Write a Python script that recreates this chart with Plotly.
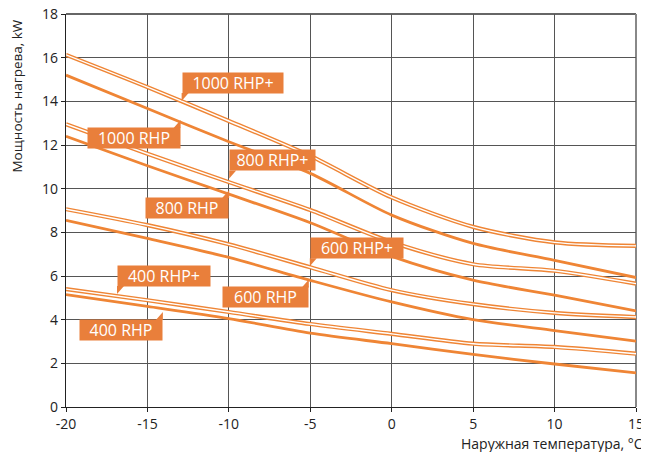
import plotly.graph_objects as go

temps = [-20, -15, -10, -5, 0, 5, 10, 15]

rhp1000_plus = [16.13, 14.65, 13.1, 11.5, 9.6, 8.25, 7.54, 7.38]
rhp1000 = [15.2, 13.67, 12.15, 10.7, 8.79, 7.49, 6.72, 5.93]
rhp800_plus = [12.95, 11.6, 10.3, 9.02, 7.55, 6.54, 6.24, 5.65]
rhp800 = [12.4, 11.05, 9.75, 8.44, 6.9, 5.81, 5.12, 4.4]
rhp600_plus = [9.06, 8.33, 7.45, 6.4, 5.35, 4.71, 4.31, 4.12]
rhp600 = [8.55, 7.72, 6.85, 5.8, 4.81, 4.0, 3.5, 3.02]
rhp400_plus = [5.4, 4.89, 4.35, 3.8, 3.35, 2.9, 2.75, 2.44]
rhp400 = [5.15, 4.61, 4.05, 3.38, 2.9, 2.41, 1.97, 1.56]

series_names = ["1000 RHP+", "1000 RHP", "800 RHP+", "800 RHP",
                "600 RHP+", "600 RHP", "400 RHP+", "400 RHP"]
series_values = [rhp1000_plus, rhp1000, rhp800_plus, rhp800,
                 rhp600_plus, rhp600, rhp400_plus, rhp400]
series_double = [True, False, True, False, True, False, True, False]

# label pointer tips (data coords), pointer side, box width (px)
label_tip_x = [-12.9, -12.96, -9.98, -9.98, -5.03, -5.09, -16.87, -14.05]
label_tip_y = [14.02, 13.15, 10.47, 9.94, 6.45, 5.84, 5.17, 4.35]
label_side = ["bl", "tr", "bl", "tr", "bl", "tr", "bl", "tr"]
label_width = [100, 92, 85, 82, 92, 85, 92, 82]

x_ticks = [-20, -15, -10, -5, 0, 5, 10, 15]
y_ticks = [0, 2, 4, 6, 8, 10, 12, 14, 16, 18]

ORANGE = "#EF8535"
LABEL = "#E97F3B"

fig = go.Figure()
for name, vals, dbl in zip(series_names, series_values, series_double):
    if dbl:
        fig.add_trace(go.Scatter(x=temps, y=vals, mode="lines", name=name,
                                 line=dict(color=ORANGE, width=4.2, shape="spline", smoothing=0.8),
                                 hoverinfo="skip", showlegend=False))
        fig.add_trace(go.Scatter(x=temps, y=vals, mode="lines", name=name,
                                 line=dict(color="white", width=1.4, shape="spline", smoothing=0.8),
                                 showlegend=False))
    else:
        fig.add_trace(go.Scatter(x=temps, y=vals, mode="lines", name=name,
                                 line=dict(color=ORANGE, width=2.8, shape="spline", smoothing=0.8),
                                 showlegend=False))

shapes = [
    dict(type="line", xref="paper", yref="paper", x0=0, x1=1, y0=1, y1=1,
         line=dict(color="#333", width=1.5), layer="below"),
    dict(type="line", xref="paper", yref="paper", x0=1, x1=1, y0=0, y1=1,
         line=dict(color="#888", width=2), layer="below"),
]
annotations = []
BOX_H = 20
GAP = 7
for name, tx, ty, side, w in zip(series_names, label_tip_x, label_tip_y, label_side, label_width):
    if side == "bl":
        path = f"M0,0 L0,{GAP + 1} L7,{GAP + 1} Z"
        annotations.append(dict(x=tx, y=ty, xref="x", yref="y", text=name, showarrow=False,
                                xanchor="left", yanchor="bottom", yshift=GAP,
                                width=w, height=BOX_H, bgcolor=LABEL, borderpad=0,
                                font=dict(family="Open Sans", size=16, color="white")))
    else:
        path = f"M0,0 L0,{-GAP - 1} L-7,{-GAP - 1} Z"
        annotations.append(dict(x=tx, y=ty, xref="x", yref="y", text=name, showarrow=False,
                                xanchor="right", yanchor="top", yshift=-GAP,
                                width=w, height=BOX_H, bgcolor=LABEL, borderpad=0,
                                font=dict(family="Open Sans", size=16, color="white")))
    shapes.append(dict(type="path", xref="x", yref="y", xsizemode="pixel", ysizemode="pixel",
                       xanchor=tx, yanchor=ty, path=path, fillcolor=LABEL,
                       line=dict(width=0), layer="above"))

annotations.append(dict(x=0, y=0.79, xref="paper", yref="paper", xshift=-49,
                        xanchor="center", yanchor="middle",
                        text="Мощность нагрева, kW", textangle=-90, showarrow=False,
                        font=dict(family="Open Sans", size=13.5, color="#222")))
annotations.append(dict(x=1.0, y=0, xref="paper", yref="paper", xanchor="right", yanchor="top",
                        xshift=9, yshift=-25,
                        text="Наружная температура, °C", showarrow=False,
                        font=dict(family="Open Sans", size=14, color="#222")))

fig.update_layout(
    width=649, height=452,
    margin=dict(l=58, r=21, t=6, b=53),
    plot_bgcolor="white", paper_bgcolor="white",
    shapes=shapes, annotations=annotations,
    showlegend=False,
    font=dict(family="Open Sans", size=13, color="#222"),
)
fig.update_xaxes(range=[-20, 15], tickvals=x_ticks, ticktext=[str(v) for v in x_ticks],
                 showgrid=True, gridcolor="#555", gridwidth=1.3, automargin=False,
                 ticklabeloverflow="allow",
                 showline=True, linecolor="#222", linewidth=1.2,
                 ticks="outside", ticklen=4, tickcolor="#222", zeroline=False,
                 tickfont=dict(family="Open Sans", size=14, color="#222"))
fig.update_yaxes(range=[0, 18], tickvals=y_ticks, automargin=False,
                 ticklabeloverflow="allow",
                 showgrid=True, gridcolor="#555", gridwidth=1.3,
                 showline=True, linecolor="#222", linewidth=1.2,
                 ticks="outside", ticklen=4, tickcolor="#222", zeroline=False,
                 tickfont=dict(family="Open Sans", size=14, color="#222"))

fig.write_html("out.html")
